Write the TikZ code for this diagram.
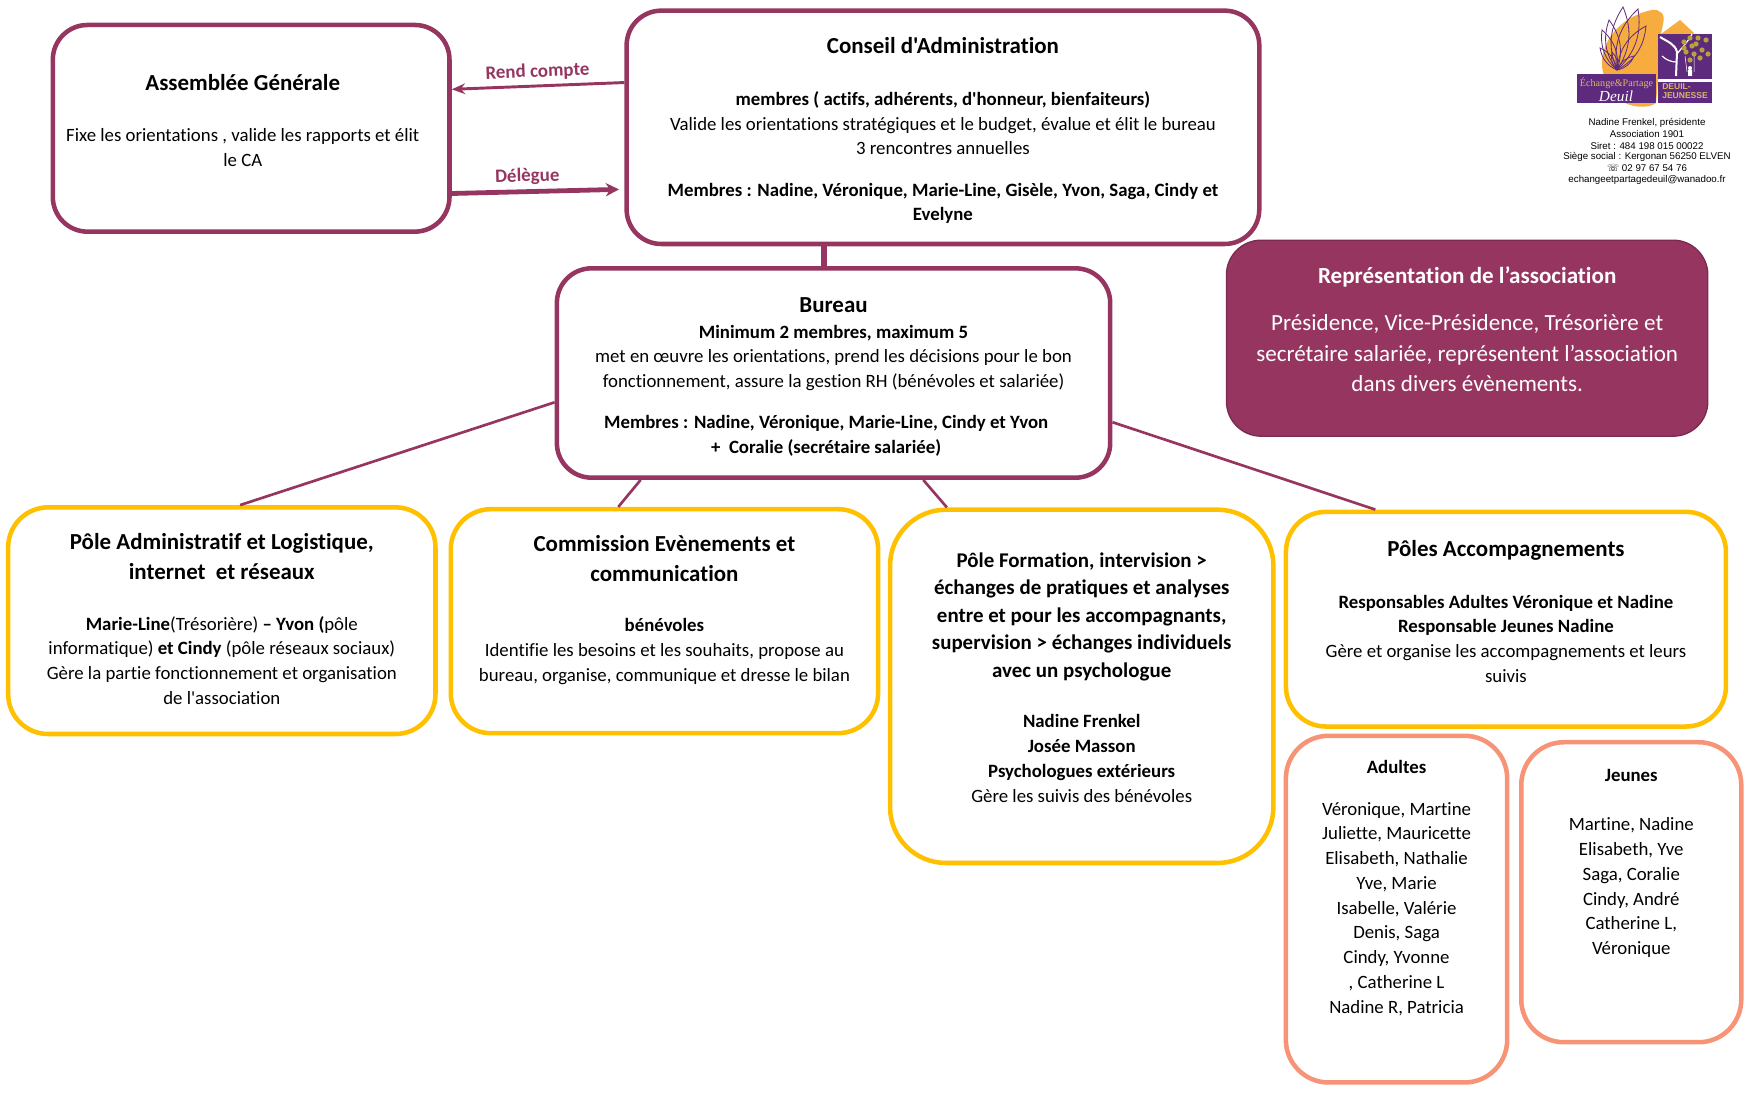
\documentclass[tikz,border=0pt]{standalone}
\usepackage{fontspec}
\usetikzlibrary{arrows.meta}
\setmainfont{Carlito}[Ligatures={TeXOff,NoCommon}]
\newfontfamily\logosans{Liberation Sans}
\newfontfamily\logoserif{Liberation Serif}
\newfontfamily\symbolfont{DejaVu Sans}
\definecolor{wine}{HTML}{963560}
\definecolor{winedark}{HTML}{7C2A4E}
\definecolor{gold}{HTML}{FFC000}
\definecolor{salmon}{HTML}{F79377}
\definecolor{logoplum}{HTML}{5E2A7E}
\definecolor{logoorange}{HTML}{F6AC3F}
\definecolor{logotan}{HTML}{D9B66A}
\definecolor{logoleaf}{HTML}{B5A23A}
\newcommand{\bodyfont}{\fontsize{14.1}{18.55}\selectfont}
\newcommand{\headfont}{\fontsize{17.2}{20}\selectfont\bfseries}
\newcommand{\formfont}{\fontsize{15.7}{20.7}\selectfont\bfseries}
\newcommand{\padright}[1]{\hbox to #1{}}
\tikzset{
  framed/.style={fill=white,line width=3.4pt,align=center,font=\bodyfont},
  winebox/.style={framed,draw=wine,rounded corners=26pt},
  goldbox/.style={framed,draw=gold,rounded corners=30pt},
  salmonbox/.style={framed,draw=salmon,rounded corners=32pt},
  link/.style={color=wine,line width=2pt},
  linklabel/.style={text=wine,font=\fontsize{14.2}{16}\selectfont\bfseries,sloped,above},
  logoline/.style={font=\logosans\fontsize{7.3}{8}\selectfont,inner sep=0pt}
}
\begin{document}
\begin{tikzpicture}[x=0.746pt,y=-0.746pt]
  \useasboundingbox (0,0) rectangle (1764.4,1120);
  % top row
  \node (assemblee) at (252.5,129) [winebox,minimum width=297.5pt,minimum height=155pt]
    {{\headfont Assemblée Générale}\padright{12.6pt}\\[20pt]
     Fixe les orientations , valide les rapports et élit\padright{12.6pt}\\
     le CA\padright{12.6pt}\\[-6.9pt]\mbox{}};
  \node (conseil) at (948,128) [winebox,minimum width=474.5pt,minimum height=175pt]
    {\mbox{}\\[-1.5pt]
     {\headfont Conseil d'Administration}\\[20.2pt]
     \textbf{membres ( actifs, adhérents, d'honneur, bienfaiteurs)}\\
     Valide les orientations stratégiques et le budget, évalue et élit le bureau\\
     3 rencontres annuelles\\[12.4pt]
     \textbf{Membres : Nadine, Véronique, Marie-Line, Gisèle, Yvon, Saga, Cindy et}\\
     \textbf{Evelyne}};
  \node (bureau) at (838,375) [winebox,minimum width=415pt,minimum height=157pt]
    {\mbox{}\\[-1.5pt]
     {\headfont Bureau}\\[0.7pt]
     \textbf{Minimum 2 membres, maximum 5}\\
     met en œuvre les orientations, prend les décisions pour le bon\\
     fonctionnement, assure la gestion RH (bénévoles et salariée)\\[12.4pt]
     \textbf{Membres : Nadine, Véronique, Marie-Line, Cindy et Yvon}\padright{11pt}\\
     \textbf{+\ \ Coralie (secrétaire salariée)}\padright{11pt}};
  \node (representation) at (1475,340) [draw=winedark,fill=wine,line width=1pt,rounded corners=26pt,
      minimum width=361pt,minimum height=147pt,align=center,text=white,
      font=\fontsize{17.3}{22.8}\selectfont]
    {\textbf{Représentation de l’association}\\[12.4pt]
     Présidence, Vice-Présidence, Trésorière et\\
     secrétaire salariée, représentent l’association\\
     dans divers évènements.\\[-9.4pt]\mbox{}};
  % poles
  \node (administratif) at (223,624) [goldbox,minimum width=320.5pt,minimum height=170pt]
    {{\headfont Pôle Administratif et Logistique,}\\[4pt]
     {\headfont internet\ \ et réseaux}\\[19.2pt]
     \textbf{Marie-Line}(Trésorière) \textbf{– Yvon (}pôle\\
     informatique) \textbf{et Cindy} (pôle réseaux sociaux)\\
     Gère la partie fonctionnement et organisation\\
     de l'association\\[-16pt]\mbox{}};
  \node (commission) at (668,624.5) [goldbox,minimum width=320.5pt,minimum height=168pt]
    {{\headfont Commission Evènements et}\\[4pt]
     {\headfont communication}\\[19.3pt]
     \textbf{bénévoles}\\
     Identifie les besoins et les souhaits, propose au\\
     bureau, organise, communique et dresse le bilan\\[0.7pt]\mbox{}};
  \node (formation) at (1087.5,690) [goldbox,rounded corners=42pt,minimum width=287.5pt,minimum height=265pt]
    {{\formfont Pôle Formation, intervision >}\\[2.15pt]
     {\formfont échanges de pratiques et analyses}\\[2.15pt]
     {\formfont entre et pour les accompagnants,}\\[2.15pt]
     {\formfont supervision > échanges individuels}\\[2.15pt]
     {\formfont avec un psychologue}\\[19.2pt]
     \textbf{Nadine Frenkel}\\
     \textbf{Josée Masson}\\
     \textbf{Psychologues extérieurs}\\
     Gère les suivis des bénévoles\\[-5pt]\mbox{}};
  \node (accompagnements) at (1514,622.5) [goldbox,minimum width=330pt,minimum height=161pt]
    {{\headfont Pôles Accompagnements}\\[20pt]
     \textbf{Responsables Adultes Véronique et Nadine}\\
     \textbf{Responsable Jeunes Nadine}\\
     Gère et organise les accompagnements et leurs\\
     suivis\\[-6.9pt]\mbox{}};
  \node (adultes) at (1404,914) [salmonbox,minimum width=166pt,minimum height=260pt]
    {\textbf{Adultes}\\[12.5pt]
     Véronique, Martine\\
     Juliette, Mauricette\\
     Elisabeth, Nathalie\\
     Yve, Marie\\
     Isabelle, Valérie\\
     Denis, Saga\\
     Cindy, Yvonne\\
     , Catherine L\\
     Nadine R, Patricia\\[15pt]\mbox{}};
  \node (jeunes) at (1640,897) [salmonbox,minimum width=165pt,minimum height=225pt]
    {\textbf{Jeunes}\\[18.4pt]
     Martine, Nadine\\
     Elisabeth, Yve\\
     Saga, Coralie\\
     Cindy, André\\
     Catherine L,\\
     Véronique\\[26.7pt]\mbox{}};
  % connectors
  \path[-{Stealth[length=10pt,width=8pt]}]
    (conseil.172.6) edge [link,line width=2.2pt] node [linklabel] {Rend compte} (assemblee.11.6)
    (assemblee.-18.6) edge [link,line width=3.6pt,shorten >=4pt,-{Stealth[length=10pt,width=10pt]}] node [linklabel,pos=0.44] {Délègue} (conseil.191.1);
  \path[link]
    (bureau.95.4 |- conseil.south) edge [line width=4.6pt] (bureau.95.4)
    (bureau.186.2) edge (administratif.81.6)
    (bureau.209) edge (commission.112.1)
    (bureau.-50.6) edge (formation.127.3)
    (bureau.-10.1) edge (accompagnements.140.5);
  % logo
  \begin{scope}[x=0.75pt,y=-0.75pt]
    \fill[logoorange] (1652,10) .. controls (1660,9) and (1666,14) .. (1663,24)
      -- (1661,34) -- (1680,20) -- (1694,33) -- (1658,80) -- (1656,103)
      .. controls (1650,108) and (1635,108) .. (1625,103)
      .. controls (1605,85) and (1598,70) .. (1604,50)
      .. controls (1610,30) and (1630,14) .. (1652,10) -- cycle;
    \fill[logoplum] (1658,34) rectangle (1712,79);
    \fill[logoplum] (1658,82) rectangle (1712,103);
    \fill[logoplum] (1577,74) rectangle (1656,103);
    \foreach \tipx/\tipy in {1602/30,1609/20,1623/7,1638/9,1600/48,1646/26,1612/52,1634/56}
      \draw[logoplum,line width=0.6pt] (1617,70) to[bend left=28] (\tipx,\tipy) to[bend left=28] (1617,70);
    \draw[white,line width=1.5pt] (1676,76) -- (1677,52) .. controls (1675,44) and (1668,42) .. (1660,37);
    \draw[white,line width=0.9pt] (1677,54) .. controls (1683,46) and (1688,42) .. (1692,34)
      (1676,62) .. controls (1672,62) and (1666,60) .. (1662,56);
    \foreach \leafx/\leafy in {1684/42,1690/38,1696/44,1702/50,1686/52,1694/54,1700/58,1708/54,1692/46,1698/38,1690/60,1684/48,1706/40}
      \fill[logoleaf] (\leafx,\leafy) circle (2.6);
    \draw[white,line width=0.4pt] (1685,56) -- (1687,72) (1694,56) -- (1694,72);
    \fill[white] (1690,68) circle (2) (1688,70) rectangle (1692,76);
    \node (logoechange) at (1616.5,83) [inner sep=0pt,text=logotan,font=\logoserif\fontsize{7.6}{8}\selectfont] {Échange\&Partage};
    \node (logodeuil) at (1616,96) [inner sep=0pt,text=white,font=\logoserif\itshape\fontsize{11.5}{12}\selectfont] {Deuil};
    \node (logojeunesse) at (1685,91.5) [inner sep=0pt,align=left,text=logotan,font=\logosans\bfseries\fontsize{6.4}{6.9}\selectfont] {DEUIL-\\JEUNESSE};
    \node (logonom) at (1647,123) [logoline] {Nadine Frenkel, présidente};
    \node (logoassoc) at (1647,134) [logoline] {Association 1901};
    \node (logosiret) at (1647,146) [logoline] {Siret : 484 198 015 00022};
    \node (logosiege) at (1647,157) [logoline] {Siège social : Kergonan 56250 ELVEN};
    \node (logotel) at (1647,168) [logoline] {{\symbolfont ☏} 02 97 67 54 76};
    \node (logomail) at (1647,180) [logoline] {echangeetpartagedeuil@wanadoo.fr};
  \end{scope}
\end{tikzpicture}
\end{document}
